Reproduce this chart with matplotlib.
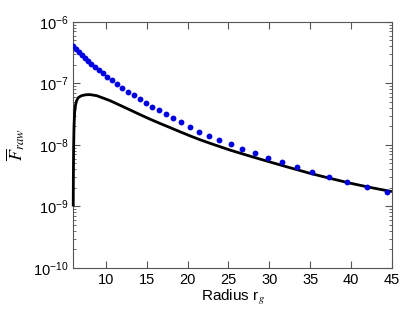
import matplotlib
matplotlib.use("Agg")
import matplotlib.pyplot as plt
from matplotlib.ticker import LogLocator, FixedLocator

plt.rcParams['font.family'] = ['Liberation Sans', 'DejaVu Sans']
plt.rcParams['mathtext.fontset'] = 'stix'

# Blue points (data samples)
pts_r = [6.00, 6.33, 6.67, 7.03, 7.41, 7.81, 8.23, 8.68, 9.15, 9.64, 10.16,
         10.71, 11.31, 11.98, 12.70, 13.42, 14.13, 14.89, 15.67, 16.50, 17.35,
         18.27, 19.24, 20.27, 21.35, 22.6, 23.9, 25.3, 26.7, 28.2, 29.8, 31.5,
         33.35, 35.2, 37.3, 39.5, 41.9, 44.45]
pts_f = [4.00e-7, 3.61e-7, 3.25e-7, 2.92e-7, 2.61e-7, 2.33e-7, 2.08e-7, 1.85e-7,
         1.63e-7, 1.45e-7, 1.27e-7, 1.12e-7, 9.77e-8, 8.43e-8, 7.24e-8, 6.37e-8,
         5.58e-8, 4.82e-8, 4.21e-8, 3.66e-8, 3.14e-8, 2.75e-8, 2.33e-8, 1.96e-8,
         1.64e-8, 1.41e-8, 1.21e-8, 1.03e-8, 8.71e-9, 7.41e-9, 6.22e-9, 5.30e-9,
         4.44e-9, 3.68e-9, 3.05e-9, 2.47e-9, 2.05e-9, 1.70e-9]

# Black model curve
line_r = [6.0, 6.02, 6.05, 6.1, 6.17, 6.27, 6.42, 6.6, 6.8, 7.03, 7.5, 8.05,
          8.87, 9.6, 10.5, 11.7, 12.95, 14.2, 15.41, 16.6, 17.87, 19.1, 20.32,
          21.55, 22.77, 25.22, 27.67, 30.12, 32.58, 35.03, 37.49, 39.94, 42.4,
          45.0]
line_f = [1.0e-9, 3.16e-9, 8.91e-9, 2.0e-8, 3.31e-8, 4.37e-8, 5.25e-8, 5.82e-8,
          6.09e-8, 6.32e-8, 6.53e-8, 6.58e-8, 6.32e-8, 5.82e-8, 5.25e-8, 4.43e-8,
          3.71e-8, 3.10e-8, 2.62e-8, 2.24e-8, 1.91e-8, 1.63e-8, 1.40e-8, 1.21e-8,
          1.06e-8, 8.22e-9, 6.55e-9, 5.26e-9, 4.24e-9, 3.44e-9, 2.85e-9, 2.38e-9,
          2.03e-9, 1.74e-9]

xticks = [10, 15, 20, 25, 30, 35, 40, 45]

fig = plt.figure(figsize=(4.16, 3.32), dpi=100)
ax = fig.add_axes([0.176, 0.193, 0.766, 0.741])
ax.plot(line_r, line_f, color='black', lw=2.0, zorder=3, clip_on=False,
        solid_joinstyle='round', solid_capstyle='butt')
ax.plot(pts_r, pts_f, 'o', color='#0000e0', ms=4.2, mec='none', zorder=4)
ax.set_yscale('log')
ax.set_xlim(6, 45)
ax.set_ylim(1e-10, 1e-6)
ax.xaxis.set_major_locator(FixedLocator(xticks))
ax.yaxis.set_major_locator(LogLocator(base=10, numticks=10))
ax.yaxis.set_minor_locator(LogLocator(base=10, subs=range(2, 10), numticks=20))
ax.tick_params(which='both', direction='in', top=True, right=True,
               labelsize=10.5, colors='#555555', labelcolor='black')
ax.tick_params(which='major', length=5)
ax.tick_params(which='minor', length=2.5)
for s in ax.spines.values():
    s.set_color('#555555')
ax.set_xlabel('Radius r$_g$', fontsize=11, labelpad=1)
ax.set_ylabel(r'$\overline{F}_{raw}$', fontsize=13, labelpad=4)
fig.savefig('out.png', dpi=100)
